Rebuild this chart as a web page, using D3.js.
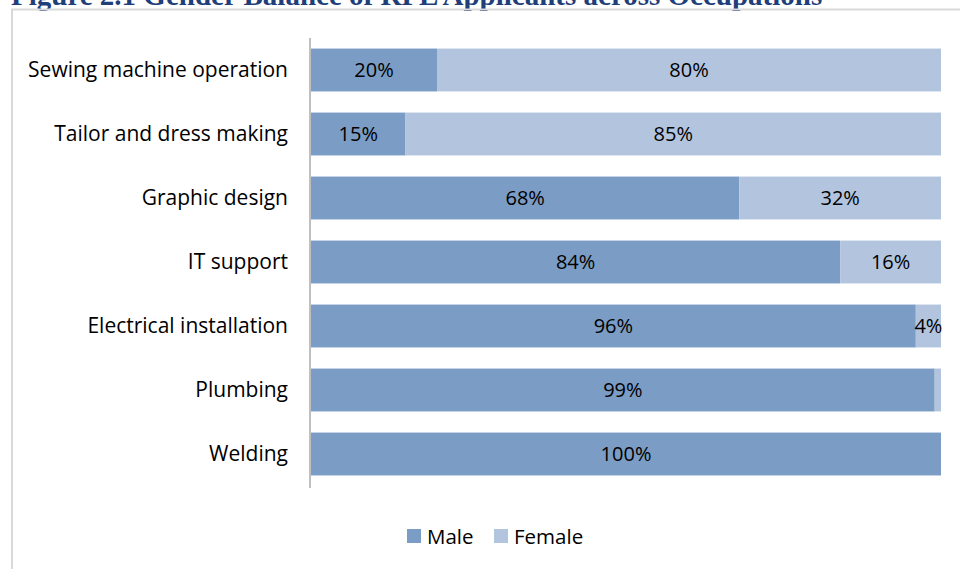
<!DOCTYPE html>
<html>
<head>
<meta charset="utf-8">
<script src="https://cdn.jsdelivr.net/npm/d3@7"></script>
<style>
  html, body { margin: 0; padding: 0; background: #fff; }
  svg { display: block; }
</style>
</head>
<body>
<svg id="chart" width="960" height="569"></svg>
<script>
// Occupations, top to bottom
const occupations = [
  "Sewing machine operation",
  "Tailor and dress making",
  "Graphic design",
  "IT support",
  "Electrical installation",
  "Plumbing",
  "Welding"
];
// Share of applicants, percent
const maleShare   = [20, 15, 68, 84, 96, 99, 100];
const femaleShare = [80, 85, 32, 16, 4, 1, 0];
// Values shown as labels (blank where the segment is too thin)
const femaleLabels = ["80%", "85%", "32%", "16%", "4%", "", ""];
const seriesNames = ["Male", "Female"];
const seriesColors = ["#7b9cc4", "#b3c4de"];

const svg = d3.select("#chart");
const labelFont = "'Open Sans', 'Noto Sans', sans-serif";

// Title (runs above the frame)
svg.append("text")
  .attr("x", 11).attr("y", 5)
  .attr("font-family", "'Liberation Serif', 'Times New Roman', serif")
  .attr("font-weight", "bold")
  .attr("font-size", 29)
  .attr("fill", "#1f3f7a")
  .text("Figure 2.1 Gender Balance of RPL Applicants across Occupations");

// Chart frame
svg.append("rect")
  .attr("x", 12).attr("y", 9.5)
  .attr("width", 980).attr("height", 580)
  .attr("fill", "none")
  .attr("stroke", "#d9d9d9")
  .attr("stroke-width", 2);

const x = d3.scaleLinear().domain([0, 100]).range([311, 941]);
const y = d3.scaleBand().domain(occupations).range([38, 486]).paddingInner(0.33).paddingOuter(0.165);

const rows = occupations.map((o, i) => ({
  name: o,
  male: maleShare[i],
  female: femaleShare[i],
  femaleLabel: femaleLabels[i]
}));

const stack = d3.stack().keys(["male", "female"])(rows);

svg.append("g").selectAll("g")
  .data(stack)
  .join("g")
  .attr("fill", (d, i) => seriesColors[i])
  .selectAll("rect")
  .data(d => d)
  .join("rect")
  .attr("x", d => x(d[0]))
  .attr("y", d => y(d.data.name))
  .attr("width", d => x(d[1]) - x(d[0]))
  .attr("height", y.bandwidth());

// Segment labels
const labelG = svg.append("g")
  .attr("font-family", labelFont)
  .attr("font-size", 20)
  .attr("fill", "#000")
  .attr("text-anchor", "middle");

rows.forEach(r => {
  const cy = y(r.name) + y.bandwidth() / 2 + 7;
  labelG.append("text")
    .attr("x", (x(0) + x(r.male)) / 2)
    .attr("y", cy)
    .text(r.male + "%");
  if (r.femaleLabel) {
    labelG.append("text")
      .attr("x", (x(r.male) + x(r.male + r.female)) / 2)
      .attr("y", cy)
      .text(r.femaleLabel);
  }
});

// Category axis
const yAxis = d3.axisLeft(y).tickSize(0).tickPadding(22);
const axisG = svg.append("g")
  .attr("transform", "translate(310,0)")
  .call(yAxis);
axisG.select(".domain")
  .attr("stroke", "#bfbfbf")
  .attr("stroke-width", 2)
  .attr("d", "M0,38V488");
axisG.selectAll("text")
  .attr("font-family", labelFont)
  .attr("font-size", 21)
  .attr("fill", "#000")
  .attr("dy", "0.35em");

// Legend
const legend = svg.append("g")
  .attr("font-family", labelFont)
  .attr("font-size", 20.5);
const legendX = [407, 494];
seriesNames.forEach((s, i) => {
  legend.append("rect")
    .attr("x", legendX[i]).attr("y", 529)
    .attr("width", 14).attr("height", 14)
    .attr("fill", seriesColors[i]);
  legend.append("text")
    .attr("x", legendX[i] + 20).attr("y", 544)
    .attr("fill", "#000")
    .text(s);
});
</script>
</body>
</html>
